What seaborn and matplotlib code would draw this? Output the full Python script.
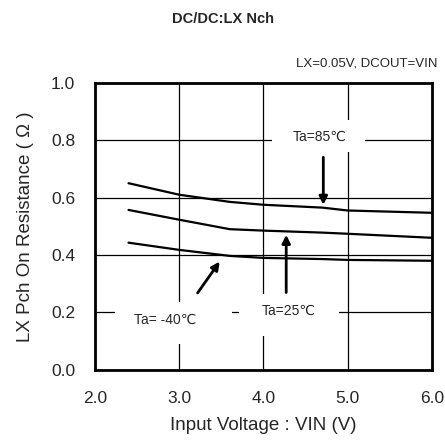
import pandas as pd
import matplotlib.pyplot as plt
import seaborn as sns
from matplotlib.patches import Rectangle

# values
vin = [2.4, 3.0, 3.6, 4.0, 4.7, 5.0, 6.0]
r_85 = [0.65, 0.61, 0.585, 0.575, 0.565, 0.555, 0.547]
r_25 = [0.557, 0.523, 0.49, 0.485, 0.478, 0.474, 0.46]
r_m40 = [0.443, 0.418, 0.397, 0.39, 0.386, 0.383, 0.38]
temps = ['85', '25', '-40']

data = pd.DataFrame({
    'VIN': vin * 3,
    'R': r_85 + r_25 + r_m40,
    'Ta': [t for t in temps for _ in vin],
})

sns.set_style('white')
plt.rcParams['font.family'] = ['Liberation Sans', 'DejaVu Sans']

fig = plt.figure(figsize=(4.45, 4.42), dpi=100)
ax = fig.add_axes([0.213, 0.163, 0.758, 0.65])
sns.lineplot(data=data, x='VIN', y='R', units='Ta', estimator=None,
             color='black', linewidth=1.6, ax=ax, zorder=3)

ax.set_xlim(2.0, 6.0)
ax.set_ylim(0.0, 1.0)
ax.set_xticks([2.0, 3.0, 4.0, 5.0, 6.0])
ax.set_yticks([0.0, 0.2, 0.4, 0.6, 0.8, 1.0])
ax.set_xticklabels(['2.0', '3.0', '4.0', '5.0', '6.0'])
ax.set_yticklabels(['0.0', '0.2', '0.4', '0.6', '0.8', '1.0'])
ax.set_axisbelow(True)
ax.grid(True, color='black', linewidth=0.9)
ax.tick_params(labelsize=12.5, length=0)
ax.tick_params(axis='x', pad=15)
ax.tick_params(axis='y', pad=14)
for s in ax.spines.values():
    s.set_linewidth(2)
    s.set_color('black')

ax.set_xlabel('Input Voltage : VIN (V)', fontsize=13.5, labelpad=8)
ax.set_ylabel('LX Pch On Resistance ( Ω )', fontsize=13.5, labelpad=12)

fig.text(0.5, 0.958, 'DC/DC:LX Nch', ha='center', va='center',
         fontsize=10.5, fontweight='bold')
ax.text(1.015, 1.065, 'LX=0.05V, DCOUT=VIN', transform=ax.transAxes,
        ha='right', va='center', fontsize=9.5)

# white label boxes that cut the grid
ax.add_patch(Rectangle((4.10, 0.76), 1.10, 0.11, facecolor='white', edgecolor='none', zorder=1.5))
ax.add_patch(Rectangle((3.71, 0.118), 1.19, 0.147, facecolor='white', edgecolor='none', zorder=1.5))
ax.add_patch(Rectangle((2.24, 0.09), 1.39, 0.147, facecolor='white', edgecolor='none', zorder=1.5))

ax.annotate('', xy=(4.71, 0.565), xytext=(4.71, 0.75), zorder=4,
            arrowprops=dict(arrowstyle='-|>', color='black', lw=2, mutation_scale=12))
ax.text(4.67, 0.81, 'Ta=85℃', ha='center', va='center', fontsize=10, zorder=4)

ax.annotate('', xy=(4.27, 0.48), xytext=(4.27, 0.26), zorder=4,
            arrowprops=dict(arrowstyle='-|>', color='black', lw=2, mutation_scale=12))
ax.text(4.3, 0.205, 'Ta=25℃', ha='center', va='center', fontsize=10, zorder=4)

ax.annotate('', xy=(3.5, 0.385), xytext=(3.2, 0.26), zorder=4,
            arrowprops=dict(arrowstyle='-|>', color='black', lw=2, mutation_scale=12))
ax.text(2.83, 0.175, 'Ta= -40℃', ha='center', va='center', fontsize=10, zorder=4)

fig.savefig('out.png', dpi=100)
